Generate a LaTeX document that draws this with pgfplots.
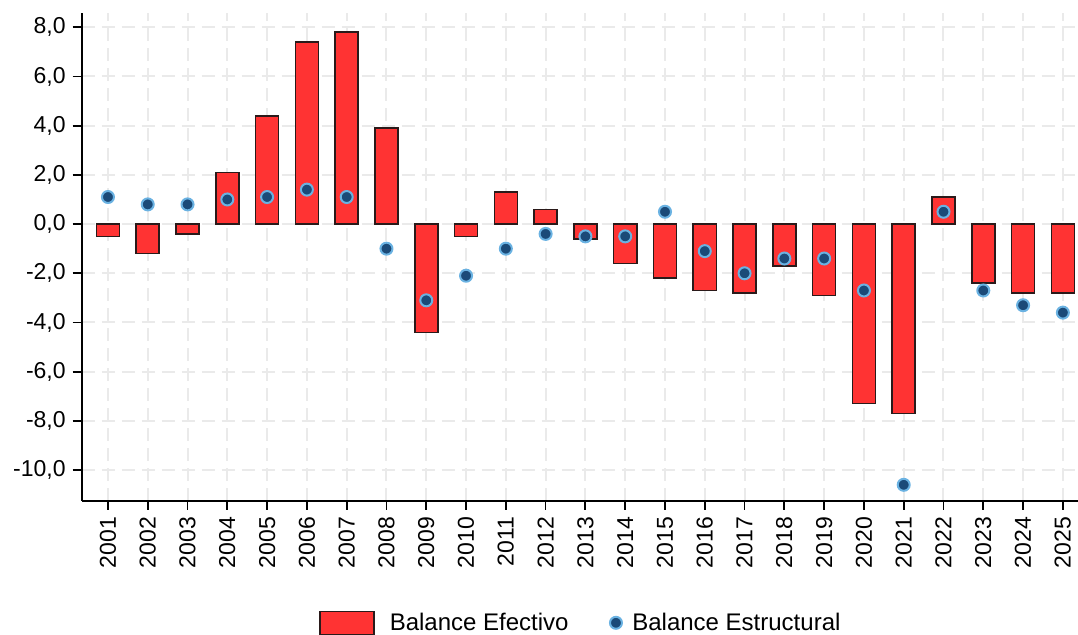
\documentclass[border=0pt]{standalone}
\usepackage{fontspec}
\setmainfont{Liberation Sans}
\usepackage{pgfplots}
\pgfplotsset{compat=1.18}
\definecolor{barred}{HTML}{FF3333}
\definecolor{bardraw}{HTML}{2A1A1A}
\definecolor{dotnavy}{HTML}{1B4A78}
\definecolor{dotblue}{HTML}{6AB2E2}
\definecolor{gridgray}{HTML}{EAEAEA}
\pgfplotsset{
  barlegend/.style={legend image code/.code={%
    \draw[##1] (0pt,-5.75pt) rectangle (27pt,5.75pt);
    \path (32.5pt,0pt);}},
  dotlegend/.style={legend image code/.code={%
    \draw[##1] plot coordinates {(0pt,0pt)};
    \path (-4pt,0pt) (6pt,0pt);}}}

\begin{document}
\begin{tikzpicture}
\path[use as bounding box] (-40.85pt,-66.65pt) rectangle (498.15pt,250.4pt);
\begin{axis}[
  at={(0,0)}, anchor=south west,
  scale only axis, width=498.15pt, height=243.9pt,
  xmin=2000.34, xmax=2025.38,
  ymin=-11.25, ymax=8.58,
  axis x line*=bottom, axis y line*=left,
  axis line style={black, line width=0.9pt},
  xtick={2001,...,2025},
  ytick={-10,-8,...,8},
  tick align=outside, major tick length=4.5pt,
  tick style={black, line width=0.9pt},
  grid=major,
  major grid style={gridgray, line width=1pt, dash pattern=on 6.5pt off 3.5pt},
  /pgf/number format/assume math mode=true,
  tick label style={font=\fontsize{11.5}{13}\selectfont},
  xticklabel style={rotate=90, anchor=east, /pgf/number format/1000 sep={}},
  yticklabel style={/pgf/number format/.cd, fixed, fixed zerofill, precision=1, use comma},
  legend style={at={(axis description cs:0.502,-0.2501)}, anchor=center,
    draw=none, fill=none, font=\fontsize{12}{14}\selectfont,
    legend columns=2,
    /tikz/every even column/.append style={column sep=17.5pt}},
]
\addplot[ybar, bar width=0.58, fill=barred, draw=bardraw, line width=0.8pt, barlegend]
  coordinates {
  (2001,-0.5) (2002,-1.2) (2003,-0.4) (2004,2.1) (2005,4.4)
  (2006,7.4) (2007,7.8) (2008,3.9) (2009,-4.4) (2010,-0.5)
  (2011,1.3) (2012,0.6) (2013,-0.6) (2014,-1.6) (2015,-2.2)
  (2016,-2.7) (2017,-2.8) (2018,-1.7) (2019,-2.9) (2020,-7.3)
  (2021,-7.7) (2022,1.1) (2023,-2.4) (2024,-2.8) (2025,-2.8)};
\addlegendentry{Balance Efectivo}
\addplot[only marks, mark=*, mark size=3pt,
  mark options={fill=dotnavy, draw=dotblue, line width=1pt}, dotlegend]
  coordinates {
  (2001,1.1) (2002,0.8) (2003,0.8) (2004,1.0) (2005,1.1)
  (2006,1.4) (2007,1.1) (2008,-1.0) (2009,-3.1) (2010,-2.1)
  (2011,-1.0) (2012,-0.4) (2013,-0.5) (2014,-0.5) (2015,0.5)
  (2016,-1.1) (2017,-2.0) (2018,-1.4) (2019,-1.4) (2020,-2.7)
  (2021,-10.6) (2022,0.5) (2023,-2.7) (2024,-3.3) (2025,-3.6)};
\addlegendentry{Balance Estructural}
\end{axis}
\end{tikzpicture}
\end{document}
